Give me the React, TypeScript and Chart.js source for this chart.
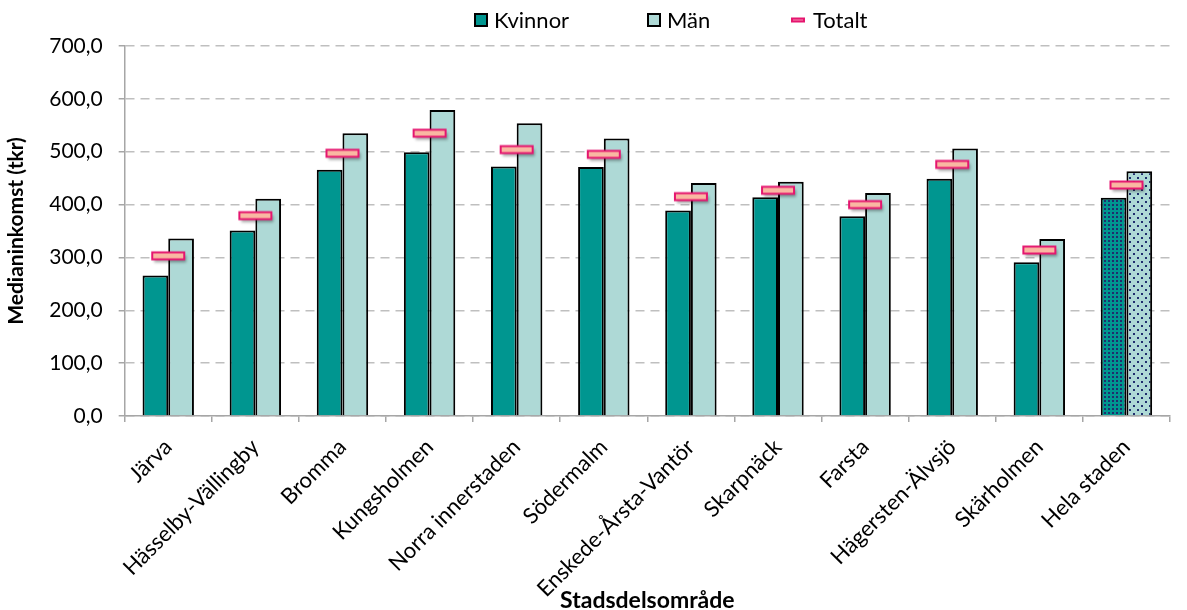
import React, { useEffect, useRef } from 'react';
import { Chart, registerables } from 'chart.js';
Chart.register(...registerables);

const categories = ['Järva', 'Hässelby-Vällingby', 'Bromma', 'Kungsholmen', 'Norra innerstaden', 'Södermalm', 'Enskede-Årsta-Vantör', 'Skarpnäck', 'Farsta', 'Hägersten-Älvsjö', 'Skärholmen', 'Hela staden'];
const kvinnor = [266, 351, 466, 499, 472, 471, 389, 414, 378, 449, 291, 413];
const man = [336, 411, 535, 579, 554, 525, 441, 443, 422, 506, 335, 463];
const totalt = [303, 379, 497, 535, 504, 495, 415, 427, 400, 476, 314, 437];
const seriesNames = ['Kvinnor', 'Män', 'Totalt'];

const TEAL = '#009690';
const LIGHT = '#AED9D6';
const PINK = '#E5156F';
const FONT = 'Lato, "Open Sans", sans-serif';

function makeCanvas(w: number, h: number) {
  const c = document.createElement('canvas');
  c.width = w; c.height = h;
  return c;
}

function makePattern(bg: string, tile: number, dots: [number, number][], size: number) {
  const c = makeCanvas(tile, tile);
  const ctx = c.getContext('2d')!;
  ctx.fillStyle = bg;
  ctx.fillRect(0, 0, tile, tile);
  ctx.fillStyle = '#1F2E6E';
  dots.forEach(([x, y]) => ctx.fillRect(x, y, size, size));
  const p = document.createElement('canvas').getContext('2d')!.createPattern(c, 'repeat');
  return p as CanvasPattern;
}

function makeMarker() {
  const c = makeCanvas(44, 20);
  const ctx = c.getContext('2d')!;
  ctx.save();
  ctx.shadowColor = 'rgba(0,0,0,0.35)';
  ctx.shadowBlur = 3;
  ctx.shadowOffsetX = 2;
  ctx.shadowOffsetY = 3;
  ctx.fillStyle = '#F9B8A2';
  ctx.fillRect(6, 6.5, 32, 7);
  ctx.restore();
  ctx.strokeStyle = PINK;
  ctx.lineWidth = 2;
  ctx.strokeRect(6, 6.5, 32, 7);
  return c;
}

const legendX = [475, 648, 791];

const legendPlugin = {
  id: 'customLegend',
  afterDraw(chart: any) {
    const ctx = chart.ctx;
    ctx.save();
    ctx.font = `22px ${FONT}`;
    ctx.textBaseline = 'middle';
    const y = 20;
    seriesNames.forEach((n, i) => {
      const x = legendX[i];
      if (i < 2) {
        ctx.fillStyle = i === 0 ? TEAL : LIGHT;
        ctx.fillRect(x, y - 6, 12, 12);
        ctx.strokeStyle = '#000';
        ctx.lineWidth = 2;
        ctx.strokeRect(x, y - 6, 12, 12);
      } else {
        ctx.fillStyle = PINK;
        ctx.fillRect(x, y - 2.5, 14, 5);
        ctx.fillStyle = '#F58BB0';
        ctx.fillRect(x + 2, y - 0.5, 10, 1);
      }
      ctx.fillStyle = '#000';
      ctx.textAlign = 'left';
      ctx.fillText(n, x + (i < 2 ? 19 : 22), y + 1);
    });
    ctx.restore();
  },
};

export default function App() {
  const ref = useRef<HTMLCanvasElement>(null);
  useEffect(() => {
    document.body.style.margin = '0';
    const kPattern = makePattern(TEAL, 4, [[0, 0]], 2);
    const mPattern = makePattern(LIGHT, 8, [[1, 1], [5, 5]], 2);
    const kColors = kvinnor.map((_, i) => (i === kvinnor.length - 1 ? kPattern : TEAL));
    const mColors = man.map((_, i) => (i === man.length - 1 ? mPattern : LIGHT));
    const marker = makeMarker();
    const chart = new Chart(ref.current!, {
      type: 'bar',
      data: {
        labels: categories,
        datasets: [
          { type: 'line', label: 'Totalt', data: totalt, showLine: false, pointStyle: marker as any, pointRadius: 10, pointHoverRadius: 10, order: 0 } as any,
          { label: 'Kvinnor', data: kvinnor, backgroundColor: kColors as any, borderColor: '#000', borderWidth: 2, order: 1, barPercentage: 1, categoryPercentage: 0.59 },
          { label: 'Män', data: man, backgroundColor: mColors as any, borderColor: '#000', borderWidth: 2, order: 1, barPercentage: 1, categoryPercentage: 0.59 },
        ],
      },
      options: {
        animation: false,
        responsive: true,
        maintainAspectRatio: false,
        layout: { padding: { top: 46, right: 17, left: 4, bottom: 0 } },
        plugins: { legend: { display: false }, tooltip: { enabled: false } },
        scales: {
          x: {
            offset: true,
            grid: { display: true, drawOnChartArea: false, drawTicks: true, tickLength: 6, offset: true, color: '#A6A6A6', lineWidth: 1.5 },
            border: { color: '#A6A6A6', width: 1.5 },
            ticks: { color: '#000', font: { family: FONT, size: 22 }, maxRotation: 45, minRotation: 45, autoSkip: false, padding: 12 },
            title: { display: true, text: 'Stadsdelsområde', color: '#000', font: { family: FONT, size: 23, weight: 'bold' }, padding: { top: -28, bottom: -4 } },
          },
          y: {
            min: 0,
            max: 700,
            ticks: { stepSize: 100, color: '#000', font: { family: FONT, size: 21 }, padding: 16, callback: (v: any) => Number(v).toFixed(1).replace('.', ',') },
            grid: { color: '#BFBFBF', lineWidth: 1.5, tickLength: 6, tickColor: '#A6A6A6', tickBorderDash: [], drawTicks: true },
            border: { color: '#A6A6A6', width: 1.5, dash: [9, 6] },
            title: { display: true, text: 'Medianinkomst (tkr)', color: '#000', font: { family: FONT, size: 21, weight: 'bold' }, padding: { top: 0, bottom: 4 } },
          },
        },
      },
      plugins: [legendPlugin],
    });
    return () => chart.destroy();
  }, []);
  return (
    <div style={{ width: 1187, height: 610, position: 'relative' }}>
      <canvas ref={ref} />
    </div>
  );
}
